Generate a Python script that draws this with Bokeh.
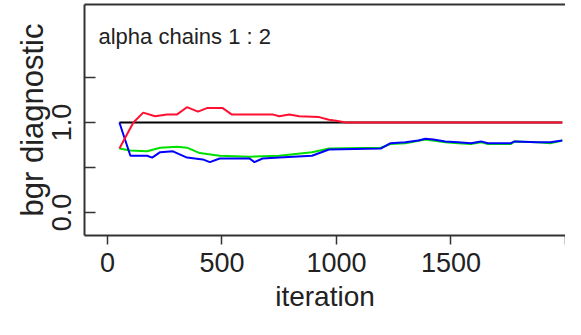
from bokeh.plotting import figure
from bokeh.models import Range1d, FixedTicker, Label, LinearAxis
from bokeh.embed import file_html
from bokeh.resources import INLINE

# ---- data ----
iter_black = [52, 1986]
bgr_black = [1.0, 1.0]

iter_red = [52, 113, 156, 208, 260, 304, 347, 395, 434, 503, 542, 720, 750, 794,
            837, 924, 967, 998, 1041, 1986]
bgr_red = [0.71, 1.0, 1.11, 1.07, 1.09, 1.09, 1.17, 1.12, 1.16, 1.16, 1.09, 1.09,
           1.07, 1.09, 1.07, 1.06, 1.03, 1.02, 1.0, 1.0]

iter_blue = [52, 100, 173, 195, 230, 286, 347, 416, 447, 490, 620, 642, 677, 750,
             893, 967, 1193, 1236, 1301, 1357, 1388, 1423, 1475, 1531, 1587, 1631,
             1661, 1761, 1778, 1878, 1934, 1986]
bgr_blue = [1.0, 0.63, 0.63, 0.61, 0.67, 0.68, 0.61, 0.59, 0.56, 0.60, 0.60, 0.56,
            0.60, 0.61, 0.63, 0.70, 0.71, 0.77, 0.78, 0.80, 0.82, 0.81, 0.79, 0.78,
            0.77, 0.79, 0.77, 0.77, 0.79, 0.78, 0.78, 0.80]

iter_green = [52, 100, 173, 230, 304, 347, 403, 490, 620, 750, 893, 967, 1193, 1236,
              1301, 1388, 1475, 1531, 1587, 1631, 1661, 1761, 1778, 1878, 1934, 1986]
bgr_green = [0.71, 0.69, 0.68, 0.72, 0.73, 0.72, 0.66, 0.63, 0.62, 0.63, 0.67, 0.71,
             0.72, 0.76, 0.77, 0.81, 0.78, 0.77, 0.76, 0.78, 0.76, 0.76, 0.79, 0.78,
             0.77, 0.80]

x_ticks = [0, 500, 1000, 1500, 2000]
x_tick_labels = ["0", "500", "1000", "1500", ""]
y_ticks = [0.0, 0.5, 1.0, 1.5]
y_tick_labels = ["0.0", "", "1.0", ""]

title_text = "alpha chains 1 : 2"
x_label = "iteration"
y_label = "bgr diagnostic"

FONT = "Liberation Sans"
TXT = "#222222"

p = figure(width=565, height=319, output_backend="svg", toolbar_location=None,
           x_range=Range1d(-100.4, 2000), y_range=Range1d(-0.2556, 2.311),
           x_axis_location=None, y_axis_location=None,
           min_border_left=84, min_border_top=4, min_border_right=0,
           min_border_bottom=84)
p.xgrid.grid_line_color = None
p.ygrid.grid_line_color = None
p.outline_line_color = None
p.background_fill_color = "white"
p.border_fill_color = "white"

xaxis = LinearAxis(ticker=FixedTicker(ticks=x_ticks),
                   major_label_overrides={t: l for t, l in zip(x_ticks, x_tick_labels)})
xaxis.axis_label = x_label
xaxis.axis_line_width = 2
xaxis.axis_line_color = "#333333"
xaxis.major_tick_in = 0
xaxis.major_tick_out = 9
xaxis.major_tick_line_color = "#333333"
xaxis.major_tick_line_width = 1.5
xaxis.minor_tick_line_color = None
xaxis.major_label_text_font = FONT
xaxis.major_label_text_font_size = "27px"
xaxis.major_label_text_color = TXT
xaxis.major_label_standoff = 8
xaxis.axis_label_text_font = FONT
xaxis.axis_label_text_font_size = "28px"
xaxis.axis_label_text_font_style = "normal"
xaxis.axis_label_text_color = TXT
xaxis.axis_label_standoff = 6
p.add_layout(xaxis, "below")

yaxis = LinearAxis(ticker=FixedTicker(ticks=y_ticks),
                   major_label_overrides={t: l for t, l in zip(y_ticks, y_tick_labels)})
yaxis.axis_label = y_label
yaxis.axis_line_width = 2
yaxis.axis_line_color = "#333333"
yaxis.major_tick_in = 11
yaxis.major_tick_out = 0
yaxis.major_tick_line_color = "#333333"
yaxis.major_tick_line_width = 1.5
yaxis.minor_tick_line_color = None
yaxis.major_label_orientation = "vertical"
yaxis.major_label_text_font = FONT
yaxis.major_label_text_font_size = "27px"
yaxis.major_label_text_color = TXT
yaxis.major_label_standoff = 13
yaxis.axis_label_text_font = FONT
yaxis.axis_label_text_font_size = "31px"
yaxis.axis_label_text_font_style = "normal"
yaxis.axis_label_text_color = TXT
yaxis.axis_label_standoff = 0
p.add_layout(yaxis, "left")

topaxis = LinearAxis(ticker=FixedTicker(ticks=[]))
topaxis.axis_line_width = 2
topaxis.axis_line_color = "#333333"
topaxis.major_tick_in = 0
topaxis.major_tick_out = 0
topaxis.minor_tick_line_color = None
topaxis.major_label_text_font_size = "0px"
topaxis.major_label_standoff = 0
p.add_layout(topaxis, "above")

p.line(iter_black, bgr_black, line_color="black", line_width=2)
p.line(iter_green, bgr_green, line_color="#00e000", line_width=2)
p.line(iter_blue, bgr_blue, line_color="#0000ff", line_width=2)
p.line(iter_red, bgr_red, line_color="#ff1030", line_width=2)

p.add_layout(Label(x=14, y=199, x_units="screen", y_units="screen", text=title_text,
                   text_font=FONT, text_font_size="22px", text_color=TXT,
                   text_baseline="alphabetic"))

open("out.html", "w").write(file_html(p, INLINE))
